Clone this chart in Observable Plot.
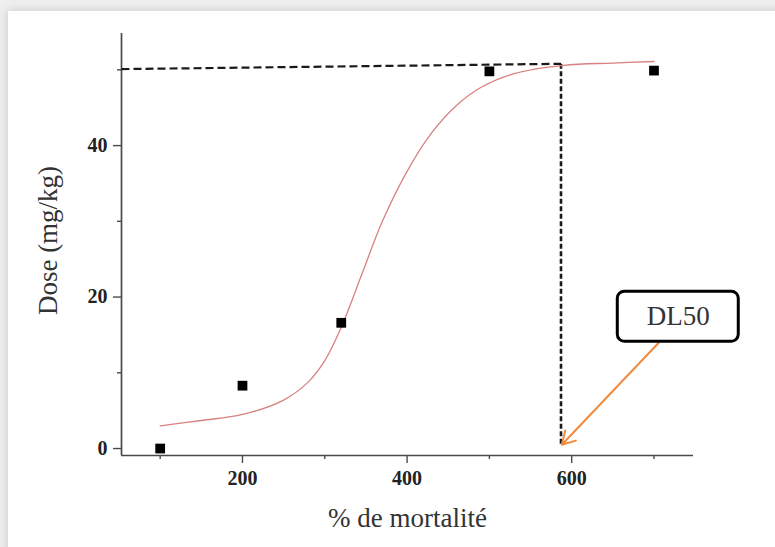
<!DOCTYPE html>
<html>
<head>
<meta charset="utf-8">
<script src="https://cdn.jsdelivr.net/npm/d3@7"></script>
<script src="https://cdn.jsdelivr.net/npm/@observablehq/plot@0.6"></script>
<style>
  html, body { margin: 0; padding: 0; }
  body { width: 775px; height: 547px; background: #eeeeee; position: relative; overflow: hidden; }
  #card { position: absolute; left: 8px; top: 11px; right: -30px; bottom: -30px; background: #fff;
          box-shadow: 0 0 9px rgba(0,0,0,0.16); }
  #chart { position: absolute; left: 0; top: 0; }
  #chart svg { overflow: visible; }
  #chart svg text { font-family: 'Liberation Serif', 'DejaVu Serif', serif; }
</style>
</head>
<body>
<div id="card"></div>
<div id="chart"></div>
<script>
// Observed points
const mortality = [100, 200, 320, 500, 700];
const dose = [0, 8.3, 16.6, 49.8, 49.9];

// Fitted sigmoid, sampled along the curve
const fitX = [100, 150, 200, 250, 280, 300, 320, 345, 370, 400, 430, 460, 490, 530, 590, 650, 700];
const fitY = [3.0, 3.7, 4.5, 6.4, 8.8, 11.6, 16.0, 23.0, 30.0, 36.6, 41.7, 45.3, 47.7, 49.5, 50.6, 50.9, 51.1];

// DL50 read-off
const dl50X = 587;
const dl50Y = 50.8;
const guideStartX = 53;
const guideStartY = 50.1;
const calloutText = ["DL50"];
const calloutBox = [656, 803, 14.1, 20.7];   // x1, x2, y1, y2
const arrowFrom = [706, 14.0];
const arrowTo = [588, 0.5];

// Axis ticks
const xMajor = [200, 400, 600];
const xMinor = [100, 300, 500, 700];
const yMajor = [0, 20, 40];
const yMinor = [10, 30, 50];
const xTitle = "% de mortalité";
const yTitle = "Dose (mg/kg)";

const xDomain = [53, 748];
const yDomain = [-0.92, 54.8];

const points = mortality.map((m, i) => ({m, d: dose[i]}));
const fit = fitX.map((x, i) => ({x, y: fitY[i]}));

const serif = "Liberation Serif";
const axisColor = "#4a4a4a";

const chart = Plot.plot({
  width: 775,
  height: 547,
  marginLeft: 121,
  marginRight: 82,
  marginTop: 33,
  marginBottom: 92,
  style: {fontFamily: serif, background: "transparent", color: "#222"},
  x: {domain: xDomain, axis: null},
  y: {domain: yDomain, axis: null},
  marks: [
    // axis lines
    Plot.ruleX([xDomain[0]], {stroke: axisColor, strokeWidth: 1.7}),
    Plot.ruleY([yDomain[0]], {stroke: axisColor, strokeWidth: 1.7}),
    // ticks
    Plot.axisX({ticks: xMajor, tickSize: 8, tickPadding: 7, stroke: axisColor, strokeWidth: 1.4,
      fontSize: 20, fontWeight: "bold", fontFamily: serif, fill: "#222", label: null, anchor: "bottom"}),
    Plot.axisX({ticks: xMinor, tickSize: 4, text: null, stroke: axisColor, strokeWidth: 1.4, label: null, anchor: "bottom"}),
    Plot.axisY({ticks: yMajor, tickSize: 8, tickPadding: 6, stroke: axisColor, strokeWidth: 1.4,
      fontSize: 20, fontWeight: "bold", fontFamily: serif, fill: "#222", label: null, anchor: "left"}),
    Plot.axisY({ticks: yMinor, tickSize: 4, text: null, stroke: axisColor, strokeWidth: 1.4, label: null, anchor: "left"}),
    // axis titles
    Plot.text([xTitle], {frameAnchor: "bottom", lineAnchor: "middle", textAnchor: "middle", dy: 63,
      fontSize: 27, fontFamily: serif, fill: "#333"}),
    Plot.text([yTitle], {frameAnchor: "left", lineAnchor: "middle", textAnchor: "middle", dx: -73, dy: -4,
      rotate: -90, fontSize: 27, fontFamily: serif, fill: "#333"}),
    // DL50 guide lines
    Plot.link([0], {x1: guideStartX, y1: guideStartY, x2: dl50X, y2: dl50Y,
      stroke: "#1a1a1a", strokeWidth: 2.2, strokeDasharray: "8,4"}),
    Plot.link([0], {x1: dl50X, y1: dl50Y, x2: dl50X, y2: arrowTo[1],
      stroke: "#1a1a1a", strokeWidth: 2.6, strokeDasharray: "5,2.5"}),
    // fitted curve
    Plot.line(fit, {x: "x", y: "y", curve: "catmull-rom", stroke: "#d98080", strokeWidth: 1.3}),
    // observed points
    Plot.dot(points, {x: "m", y: "d", symbol: "square", r: 5.5, fill: "#000", stroke: "none"}),
    // callout arrow and box
    Plot.arrow([0], {x1: arrowFrom[0], y1: arrowFrom[1], x2: arrowTo[0], y2: arrowTo[1],
      stroke: "#f08a3e", strokeWidth: 2, headLength: 11}),
    Plot.rect([0], {x1: calloutBox[0], x2: calloutBox[1], y1: calloutBox[2], y2: calloutBox[3],
      fill: "#fff", stroke: "#000", strokeWidth: 3, rx: 7}),
    Plot.text(calloutText, {x: (calloutBox[0] + calloutBox[1]) / 2, y: (calloutBox[2] + calloutBox[3]) / 2,
      fontSize: 27, fontFamily: serif, fill: "#333"})
  ]
});

document.getElementById("chart").appendChild(chart);
</script>
</body>
</html>
